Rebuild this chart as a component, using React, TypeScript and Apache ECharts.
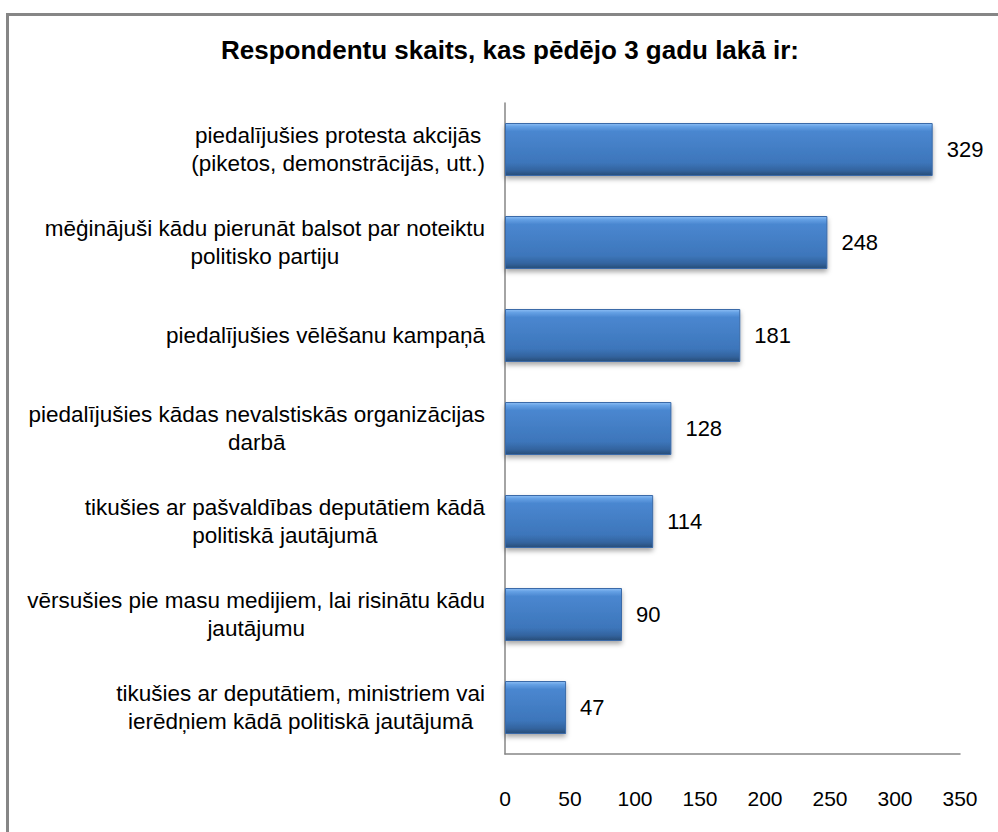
import React, { useEffect, useRef } from "react";
import * as echarts from "echarts";

const titleText = "Respondentu skaits, kas pēdējo 3 gadu lakā ir:";
const categories = [
  "piedalījušies protesta akcijās\n(piketos, demonstrācijās, utt.)",
  "mēģinājuši kādu pierunāt balsot par noteiktu\npolitisko partiju",
  "piedalījušies vēlēšanu kampaņā",
  "piedalījušies kādas nevalstiskās organizācijas\ndarbā",
  "tikušies ar pašvaldības deputātiem kādā\npolitiskā jautājumā",
  "vērsušies pie masu medijiem, lai risinātu kādu\njautājumu",
  "tikušies ar deputātiem, ministriem vai\nierēdņiem kādā politiskā jautājumā",
];
const values = [329, 248, 181, 128, 114, 90, 47];
const xMin = 0;
const xMax = 350;
const xStep = 50;

const FONT = "'Liberation Sans', Arial, sans-serif";

export default function App() {
  const ref = useRef<HTMLDivElement>(null);
  useEffect(() => {
    if (!ref.current) return;
    const chart = echarts.init(ref.current, undefined, { renderer: "svg" });
    chart.setOption({
      animation: false,
      backgroundColor: "#ffffff",
      title: {
        text: titleText,
        left: 505,
        top: 32,
        textAlign: "center",
        textStyle: { fontFamily: FONT, fontSize: 26, fontWeight: "bold", color: "#000" },
      },
      graphic: [
        {
          type: "rect",
          shape: { x: 7.5, y: 14.5, width: 1200, height: 1000 },
          style: { fill: "none", stroke: "#868686", lineWidth: 3 },
          silent: true,
        },
      ],
      grid: { left: 505, right: 38, top: 103, bottom: 78, containLabel: false },
      xAxis: {
        type: "value",
        min: xMin,
        max: xMax,
        interval: xStep,
        splitLine: { show: false },
        axisTick: { show: false },
        axisLine: { show: true, lineStyle: { color: "#868686", width: 1.5 } },
        axisLabel: { margin: 34, fontFamily: FONT, fontSize: 21, color: "#000" },
      },
      yAxis: {
        type: "category",
        data: categories,
        inverse: true,
        axisTick: { show: false },
        axisLine: { show: true, lineStyle: { color: "#868686", width: 1.5 } },
        axisLabel: {
          margin: 20,
          align: "right",
          formatter: (v: string) => v.split("\n").map((l) => `{c|${l}}`).join("\n"),
          rich: {
            c: { align: "center", fontFamily: FONT, fontSize: 22.5, lineHeight: 28, color: "#000" },
          },
        },
      },
      series: [
        {
          type: "bar",
          data: values,
          barWidth: 53,
          itemStyle: {
            color: new echarts.graphic.LinearGradient(0, 0, 0, 1, [
              { offset: 0, color: "#8cbdf4" },
              { offset: 0.06, color: "#64a0e4" },
              { offset: 0.15, color: "#4a87d0" },
              { offset: 0.75, color: "#3d76bb" },
              { offset: 0.9, color: "#33649f" },
              { offset: 1, color: "#284d78" },
            ]),
            borderColor: "#3a6aa8",
            borderWidth: 1,
            shadowColor: "rgba(0,0,0,0.35)",
            shadowBlur: 5,
            shadowOffsetY: 3,
          },
          label: {
            show: true,
            position: "right",
            distance: 14,
            fontFamily: FONT,
            fontSize: 22,
            color: "#000",
          },
        },
      ],
    });
    return () => chart.dispose();
  }, []);
  return (
    <div
      ref={ref}
      style={{ position: "fixed", left: 0, top: 0, width: 998, height: 832 }}
    />
  );
}
